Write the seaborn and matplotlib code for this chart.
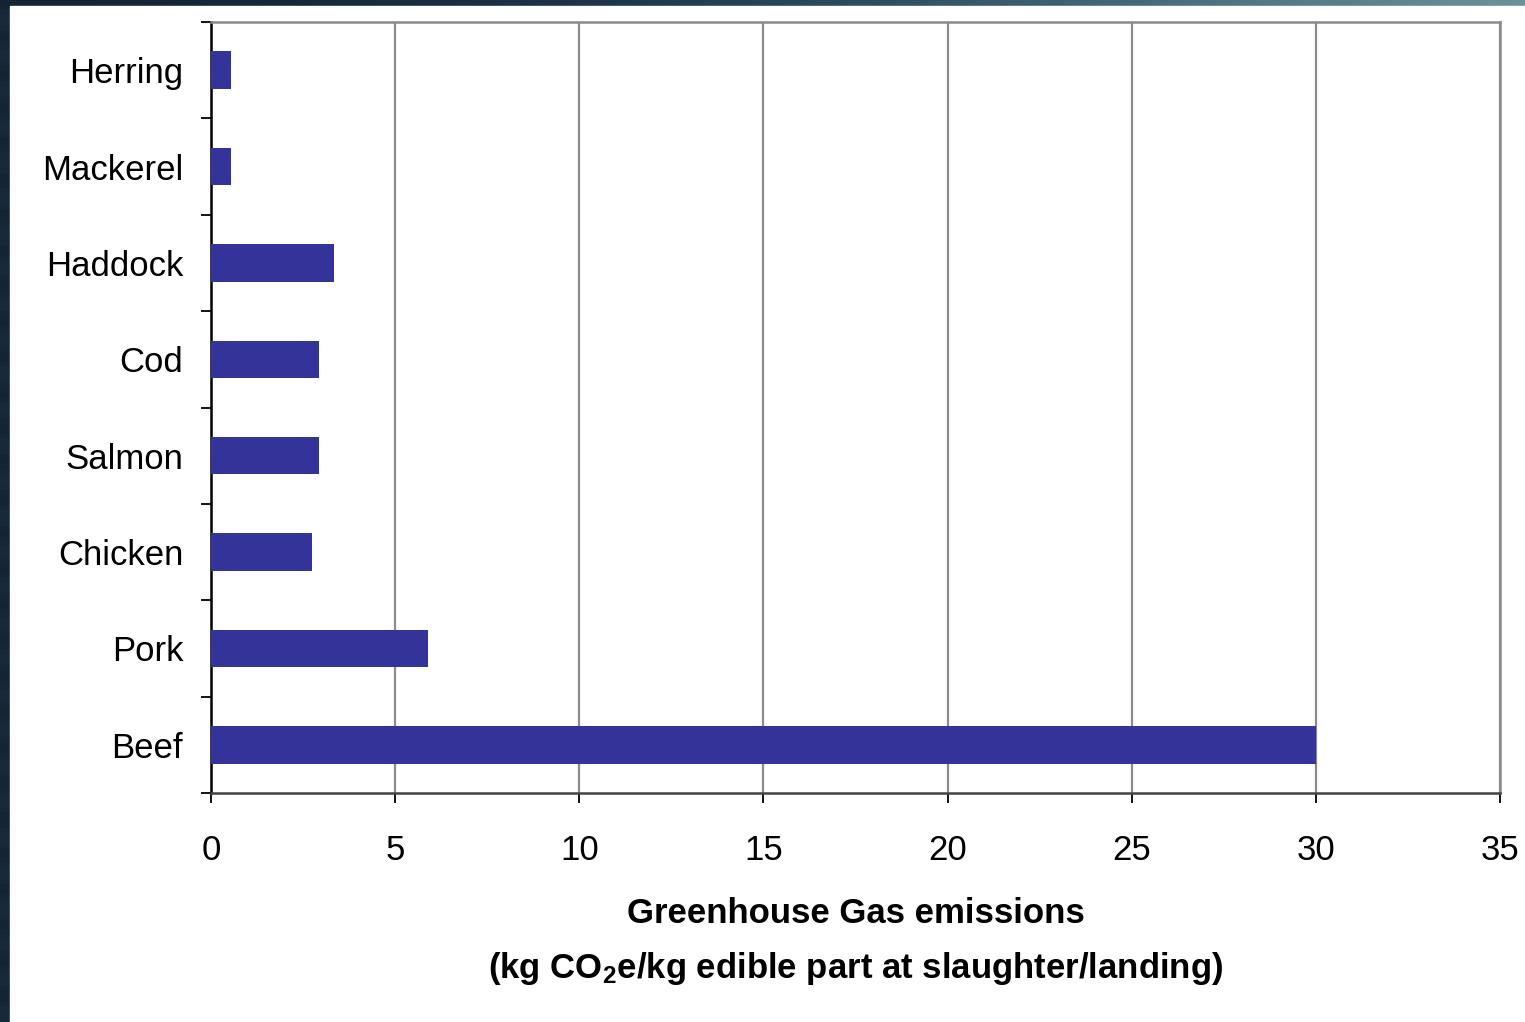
import numpy as np
import pandas as pd
import matplotlib
matplotlib.use("Agg")
import matplotlib.pyplot as plt
from matplotlib.ticker import FixedLocator
import seaborn as sns

# Greenhouse gas emissions per kg edible part
foods = ["Herring", "Mackerel", "Haddock", "Cod", "Salmon", "Chicken", "Pork", "Beef"]
emissions = [0.54, 0.54, 3.34, 2.93, 2.93, 2.74, 5.89, 30.0]
x_ticks = [0, 5, 10, 15, 20, 25, 30, 35]

df = pd.DataFrame({"food": foods, "ghg": emissions})

sns.set_theme(style="white")
plt.rcParams["font.family"] = ["Liberation Sans", "DejaVu Sans"]
plt.rcParams["mathtext.fontset"] = "custom"
plt.rcParams["mathtext.rm"] = "Liberation Sans:bold"
plt.rcParams["mathtext.bf"] = "Liberation Sans:bold"
plt.rcParams["mathtext.it"] = "Liberation Sans:bold"

W, H = 1525, 1022
fig = plt.figure(figsize=(W / 100, H / 100), dpi=100)

# slide background: dark ocean strip on the top and left edges
bg = fig.add_axes([0, 0, 1, 1], zorder=-10)
gx = np.linspace(0, 1, 300)[None, :]
gy = np.linspace(0, 1, 200)[:, None]
grad = 0.15 + 0.55 * gx ** 1.6 * (1 - gy) + 0.05 * np.sin(gy * 90) ** 2
bg.imshow(grad, cmap=sns.blend_palette(["#0b1118", "#1c3348", "#4d7382", "#7fa3a6"], as_cmap=True),
          aspect="auto", extent=[0, 1, 0, 1], vmin=0, vmax=0.8)
bg.add_patch(plt.Rectangle((10 / W, 0), 1, 1 - 6 / H, color="white", zorder=2))
bg.set_xlim(0, 1)
bg.set_ylim(0, 1)
bg.axis("off")

ax = fig.add_axes([211 / W, 229 / H, 1289 / W, 771 / H])
sns.barplot(data=df, x="ghg", y="food", orient="h", color="#333399",
            saturation=1, width=0.39, linewidth=0, ax=ax, zorder=3)

ax.set_xlim(0, 35)
ax.set_ylim(7.5, -0.5)
ax.set_xticks(x_ticks)
ax.set_xticklabels([str(t) for t in x_ticks], fontsize=25)
ax.set_yticks(range(len(foods)))
ax.set_yticklabels(foods, fontsize=25)
ax.yaxis.set_minor_locator(FixedLocator(np.arange(-0.5, len(foods), 1.0)))
ax.tick_params(axis="y", which="major", length=0, pad=20, colors="black")
ax.tick_params(axis="y", which="minor", length=7.5, width=1.3, color="black", left=True)
ax.tick_params(axis="x", which="major", length=7.5, width=1.3, color="black",
               bottom=True, pad=22, labelcolor="black")

ax.xaxis.grid(True, color="#8a8a8a", linewidth=1.6, zorder=0)
ax.yaxis.grid(False)
ax.set_axisbelow(True)

for side in ["top", "right"]:
    ax.spines[side].set_visible(True)
    ax.spines[side].set_color("#8a8a8a")
    ax.spines[side].set_linewidth(1.8)
ax.spines["left"].set_color("black")
ax.spines["left"].set_linewidth(1.8)
ax.spines["bottom"].set_color("#444444")
ax.spines["bottom"].set_linewidth(1.8)

ax.set_ylabel("")
ax.set_xlabel("Greenhouse Gas emissions\n(kg CO$_2$e/kg edible part at slaughter/landing)",
              fontsize=25, fontweight="bold", family="Liberation Sans",
              labelpad=21.5, linespacing=1.72, color="black")

fig.savefig("out.png", dpi=100)
